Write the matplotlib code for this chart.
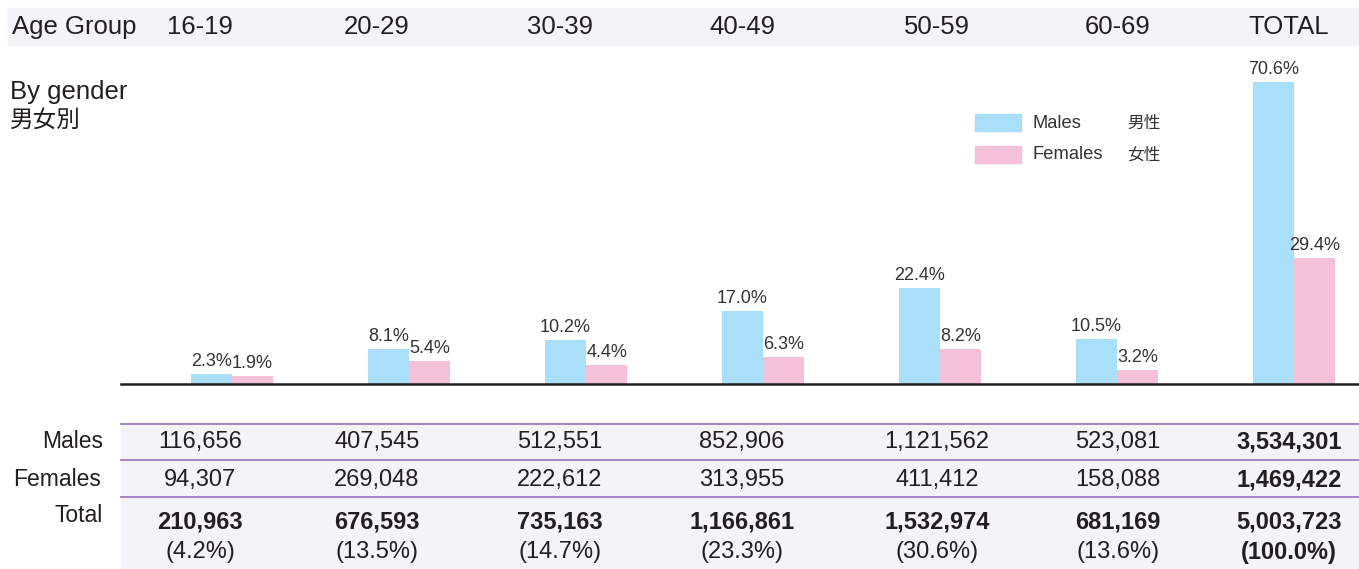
import matplotlib
matplotlib.use("Agg")
import matplotlib.pyplot as plt
from matplotlib.patches import Rectangle

plt.rcParams['font.family'] = ['Liberation Sans', 'Noto Sans CJK JP']

age_groups = ["16-19", "20-29", "30-39", "40-49", "50-59", "60-69", "TOTAL"]
males_pct = [2.3, 8.1, 10.2, 17.0, 22.4, 10.5, 70.6]
females_pct = [1.9, 5.4, 4.4, 6.3, 8.2, 3.2, 29.4]
males_n = ["116,656", "407,545", "512,551", "852,906", "1,121,562", "523,081", "3,534,301"]
females_n = ["94,307", "269,048", "222,612", "313,955", "411,412", "158,088", "1,469,422"]
total_n = ["210,963", "676,593", "735,163", "1,166,861", "1,532,974", "681,169", "5,003,723"]
total_share = ["(4.2%)", "(13.5%)", "(14.7%)", "(23.3%)", "(30.6%)", "(13.6%)", "(100.0%)"]

BLUE = "#a9dff8"
PINK = "#f5c1da"
BAND = "#f4f3f8"
PURPLE = "#a584c2"
TXT = "#231f20"
W, H = 1359, 569

fig = plt.figure(figsize=(W / 100, H / 100), dpi=100)

def fx(px):
    return px / W

def fy(py):
    return 1 - py / H

# header band
fig.patches.append(Rectangle((fx(8), fy(45)), fx(W - 8), 37 / H,
                             transform=fig.transFigure, color=BAND, zorder=0))
# table band
fig.patches.append(Rectangle((fx(121), 0), fx(W - 121), fy(424),
                             transform=fig.transFigure, color=BAND, zorder=0))
for py in [424, 460, 497]:
    fig.add_artist(plt.Line2D([fx(121), 1], [fy(py), fy(py)], color=PURPLE, lw=1.4))

col_x = [200, 377, 560, 742, 937, 1118, 1289]

fig.text(fx(12), fy(27), "Age Group", fontsize=18.5, color=TXT, va="center")
for x, lab in zip(col_x, age_groups):
    fig.text(fx(x), fy(27), lab, fontsize=18.5, color=TXT, ha="center", va="center")

fig.text(fx(10), fy(92), "By gender", fontsize=18.5, color=TXT, va="center")
fig.text(fx(10), fy(121), "男女別", fontsize=17, color=TXT, va="center")

# bars
ax = fig.add_axes([fx(121), fy(384), fx(W - 121), 334 / H])
idx = list(range(len(age_groups)))
bw = 0.233
ax.bar([i - bw / 2 for i in idx], males_pct, width=bw, color=BLUE, zorder=2)
ax.bar([i + bw / 2 for i in idx], females_pct, width=bw, color=PINK, zorder=2)
for i in idx:
    ax.text(i - bw / 2, males_pct[i] + 0.9, f"{males_pct[i]:.1f}%", ha="center",
            va="bottom", fontsize=13, color="#333333")
    ax.text(i + bw / 2, females_pct[i] + 0.9, f"{females_pct[i]:.1f}%", ha="center",
            va="bottom", fontsize=13, color="#333333")
ax.axhline(0, color="#231f20", lw=1.8, zorder=3, clip_on=False)
ax.set_xlim(-0.627, 6.367)
ax.set_ylim(0, 78)
ax.axis("off")

# legend
fig.patches.append(Rectangle((fx(975), fy(131)), 46 / W, 17 / H,
                             transform=fig.transFigure, color=BLUE))
fig.patches.append(Rectangle((fx(975), fy(163)), 46 / W, 17 / H,
                             transform=fig.transFigure, color=PINK))
fig.text(fx(1032), fy(123), "Males", fontsize=13.2, color="#333333", va="center")
fig.text(fx(1032), fy(155), "Females", fontsize=13.2, color="#333333", va="center")
fig.text(fx(1127), fy(123), "男性", fontsize=12, color="#333333", va="center")
fig.text(fx(1127), fy(155), "女性", fontsize=12, color="#333333", va="center")

# table
fig.text(fx(103), fy(441), "Males", fontsize=16.5, color=TXT, ha="right", va="center")
fig.text(fx(101), fy(479), "Females", fontsize=16.5, color=TXT, ha="right", va="center")
fig.text(fx(103), fy(516), "Total", fontsize=16.5, color=TXT, ha="right", va="center")
last = len(age_groups) - 1
for i, x in enumerate(col_x):
    bold = "bold" if i == last else "normal"
    fig.text(fx(x), fy(442), males_n[i], fontsize=17, color=TXT, ha="center",
             va="center", fontweight=bold)
    fig.text(fx(x), fy(480), females_n[i], fontsize=17, color=TXT, ha="center",
             va="center", fontweight=bold)
    fig.text(fx(x), fy(522), total_n[i], fontsize=17, color=TXT, ha="center",
             va="center", fontweight="bold")
    fig.text(fx(x), fy(552), total_share[i], fontsize=17, color=TXT, ha="center",
             va="center", fontweight=bold)

fig.savefig("out.png", dpi=100)
